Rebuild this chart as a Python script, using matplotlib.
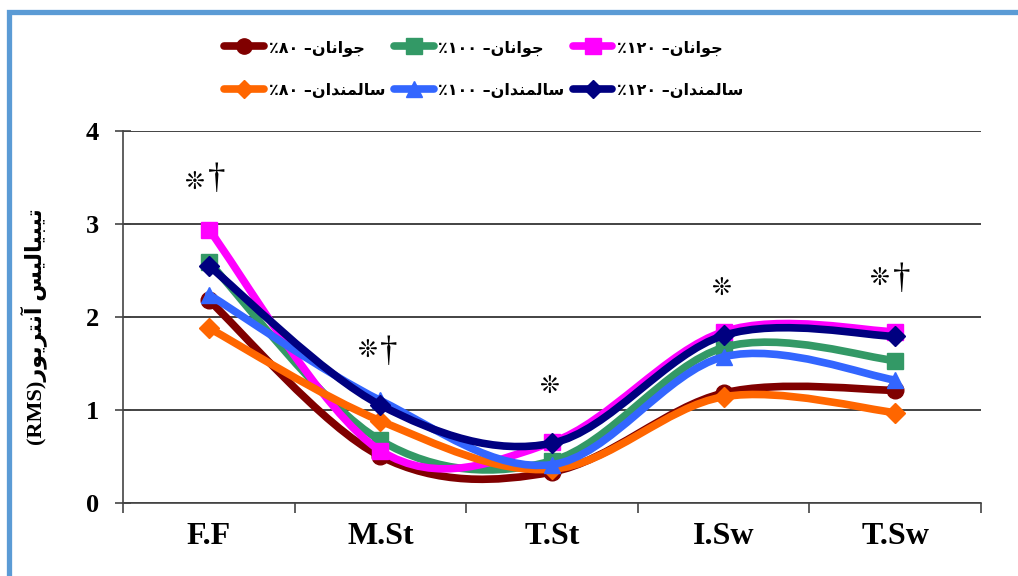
import matplotlib
matplotlib.use('Agg')
import matplotlib.pyplot as plt
from matplotlib.path import Path
from matplotlib.patches import PathPatch
from matplotlib.lines import Line2D
import numpy as np

# ---------------- data ----------------
categories = ['F.F', 'M.St', 'T.St', 'I.Sw', 'T.Sw']
young_80 = [2.18, 0.50, 0.33, 1.18, 1.21]
young_100 = [2.59, 0.67, 0.45, 1.67, 1.53]
young_120 = [2.94, 0.56, 0.65, 1.84, 1.84]
old_80 = [1.88, 0.88, 0.36, 1.14, 0.97]
old_100 = [2.24, 1.10, 0.41, 1.57, 1.32]
old_120 = [2.55, 1.05, 0.64, 1.80, 1.79]
y_ticks = [0, 1, 2, 3, 4]

# Persian text, written in visual order with presentation forms
word_young = '\uFEE5\uFE8E\uFEE7\uFE8D\uFEEE\uFE9F'            # جوانان
word_old = '\uFEE5\uFE8D\uFEAA\uFEE8\uFEE4\uFEDF\uFE8E\uFEB3'     # سالمندان
pct = {'80': '\u06F8\u06F0', '100': '\u06F1\u06F0\u06F0', '120': '\u06F1\u06F2\u06F0'}
def lab(word, p):
    return '\u066A' + pct[p] + ' \u2013' + word

labels = [lab(word_young, '80'), lab(word_young, '100'), lab(word_young, '120'),
          lab(word_old, '80'), lab(word_old, '100'), lab(word_old, '120')]
ylabel_text = ('(RMS)' + '\uFEAD\uFEEE\uFEF3\uFEAE\uFE98\uFEE7\uFE81' + ' ' +
               '\uFEB2\uFEF4\uFEDF\uFE8E\uFEF4\uFE92\uFEF4\uFE97')

# significance marks: (x position in category units, y value, text)
sig_marks = [(-0.086, 3.45, '\u274A'), (0.048, 3.48, '\u2020'),
             (0.922, 1.64, '\u274A'), (1.05, 1.62, '\u2020'),
             (1.98, 1.26, '\u274A'),
             (2.985, 2.31, '\u274A'),
             (3.906, 2.42, '\u274A'), (4.04, 2.40, '\u2020')]

series = [young_80, young_100, young_120, old_80, old_100, old_120]
colors = ['#800000', '#339966', '#FF00FF', '#FF6600', '#3366FF', '#000080']
markers = ['o', 's', 's', 'D', '^', 'D']
msizes = [12, 12, 12, 10, 12, 10]

# ---------------- figure ----------------
fig = plt.figure(figsize=(10.18, 5.76), dpi=100)
ax = fig.add_axes([123/1018, 1-502.7/576, (981-123)/1018, (502.7-131)/576])

def smooth_path(x, y):
    pts = np.column_stack([x, y]).astype(float)
    n = len(pts)
    verts = [pts[0]]
    codes = [Path.MOVETO]
    for i in range(n-1):
        p0 = pts[i-1] if i > 0 else pts[i]
        p1 = pts[i]
        p2 = pts[i+1]
        p3 = pts[i+2] if i+2 < n else pts[i+1]
        c1 = p1 + (p2 - p0) / 6.0
        c2 = p2 - (p3 - p1) / 6.0
        verts += [c1, c2, p2]
        codes += [Path.CURVE4] * 3
    return Path(verts, codes)

xs = np.arange(len(categories))
handles = []
for k, (vals, c, m, ms) in enumerate(zip(series, colors, markers, msizes)):
    z = 3 + k
    patch = PathPatch(smooth_path(xs, vals), facecolor='none', edgecolor=c,
                      lw=5.5, zorder=z, capstyle='round', joinstyle='round')
    ax.add_patch(patch)
    ax.plot(xs, vals, linestyle='none', marker=m, ms=ms, color=c,
            mec=c, zorder=z + 0.5)
    handles.append(Line2D([], [], color=c, lw=5.5, marker=m, ms=ms - 1, mec=c,
                          solid_capstyle='round'))

ax.set_xlim(-0.5, 4.5)
ax.set_ylim(0, 4)
ax.set_yticks(y_ticks)
ax.set_yticklabels([str(t) for t in y_ticks], fontfamily='Liberation Serif',
                   fontweight='bold', fontsize=19)
ax.set_xticks(xs)
ax.set_xticklabels(categories, fontfamily='Liberation Serif', fontweight='bold',
                   fontsize=23)
ax.set_xticks(np.arange(-0.5, 5.0, 1.0), minor=True)
ax.tick_params(axis='x', which='major', length=0, pad=14)
ax.tick_params(axis='x', which='minor', length=7, width=1.2, color='#444444',
               direction='out')
ax.tick_params(axis='y', which='major', length=11, width=1.2, color='#444444',
               direction='inout', pad=12)
for s in ['top', 'right']:
    ax.spines[s].set_visible(False)
for s in ['left', 'bottom']:
    ax.spines[s].set_color('#444444')
    ax.spines[s].set_linewidth(1.2)
ax.yaxis.grid(True, color='#222222', lw=1.2)
ax.set_axisbelow(True)

ax.set_ylabel(ylabel_text, fontfamily=['Liberation Serif', 'DejaVu Sans'],
              fontweight='bold', fontsize=16)
ax.yaxis.set_label_coords(-0.089, 0.475)

for x, y, t in sig_marks:
    if t == '\u2020':
        ax.text(x, y, t, ha='center', va='center', fontsize=25,
                fontfamily='Liberation Serif', fontweight='normal', zorder=20)
    else:
        ax.text(x, y, t, ha='center', va='center', fontsize=17,
                fontfamily='DejaVu Sans', fontweight='bold', zorder=20)

order = [0, 3, 1, 4, 2, 5]
leg = fig.legend([handles[i] for i in order], [labels[i] for i in order],
                 ncol=3, loc='center', bbox_to_anchor=(484/1018, 1-69/576),
                 frameon=False, handlelength=2.5, handletextpad=0.3,
                 columnspacing=0.5, labelspacing=1.7,
                 prop={'family': ['DejaVu Sans'], 'weight': 'bold', 'size': 11.5})

# outer blue frame (top and left edges)
fig.add_artist(Line2D([8.5/1018, 8.5/1018, 1.0], [0.0, 1-11.5/576, 1-11.5/576],
                      transform=fig.transFigure, color='#5B9BD5', lw=3.8,
                      solid_joinstyle='miter'))

fig.savefig('out.png', dpi=100)
